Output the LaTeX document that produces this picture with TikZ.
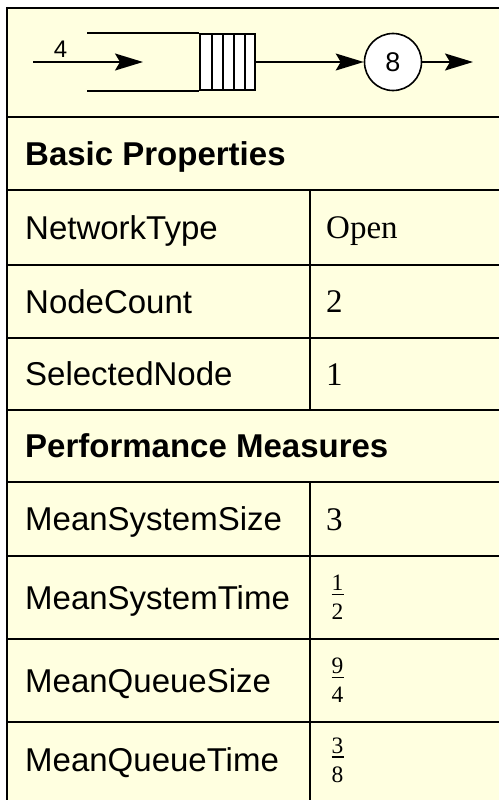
\documentclass[tikz,border=0pt]{standalone}
\usepackage{fontspec}
\setmainfont{Liberation Serif}
\setsansfont{Liberation Sans}
\usepackage{xcolor}
\usetikzlibrary{arrows.meta, positioning, calc}

\definecolor{cellbg}{HTML}{FFFFE0}

% fraction in a value cell: name, row centre, numerator, denominator
\newcommand{\cellfrac}[4]{%
  \node[fractext] (#1num) at (337.5, #2-7) {#3};
  \node[fractext] (#1den) at (337.5, #2+22) {#4};
  \draw[line width=1.2pt] (331.5, #2-3) -- (343.5, #2-3);
}

\tikzset{
  tablerule/.style={line width=2pt, black},
  qline/.style={line width=1.6pt, black},
  flow/.style={-{Stealth[length=28pt, width=17pt, inset=5pt]}, line width=1.6pt},
  keytext/.style={anchor=base west, inner sep=0pt, font=\fontsize{33}{38}\selectfont\sffamily},
  headtext/.style={anchor=base west, inner sep=0pt, font=\fontsize{33}{38}\selectfont\sffamily\bfseries},
  valtext/.style={anchor=base west, inner sep=0pt, font=\fontsize{33}{38}\selectfont},
  fractext/.style={anchor=base, inner sep=0pt, font=\fontsize{23.5}{26}\selectfont}
}

\begin{document}
\begin{tikzpicture}[x=1pt, y=-1pt]
      \useasboundingbox (0, 0) rectangle (498, 800);

      % table background and rules
      \fill[cellbg] (7, 8) rectangle (510, 810);
      \foreach \y in {8, 117, 190, 265, 338, 410, 482, 556, 639, 722}
        \draw[tablerule] (6, \y) -- (510, \y);
      \draw[tablerule] (7, 7) -- (7, 810);
      \draw[tablerule] (310, 190) -- (310, 410);
      \draw[tablerule] (310, 482) -- (310, 810);

      % queue with one server
      \coordinate (src) at (33, 62);
      \coordinate (srcend) at (143, 62);
      \coordinate (sink) at (473, 62);
      \node[draw, qline, fill=white, minimum width=55pt, minimum height=56pt, inner sep=0pt] (buffer) at (227.5, 62) {};
      \foreach \x in {212, 223, 234, 245}
        \draw[qline] (\x, 34) -- (\x, 90);
      \draw[qline] (buffer.north west) -- ++(-112, 0);
      \draw[qline] (buffer.south west) -- ++(-112, 0);
      \node[circle, draw, qline, fill=white, minimum size=57pt, inner sep=0pt, font=\fontsize{27}{30}\selectfont\sffamily] (server) at (393, 62) {8};

      \draw[flow] (src) -- node[pos=0.25, above, inner sep=4pt, font=\fontsize{24}{28}\selectfont\sffamily] (rate) {4} (srcend);
      \draw[flow] (buffer.east) -- (server.west);
      \draw[flow] (server.east) -- (sink);

      % basic properties
      \node[headtext] (basic) at (25, 165) {Basic Properties};
      \node[keytext] (nettype) at (25, 239) {NetworkType};
      \node[valtext] (nettypev) at (326, 238) {Open};
      \node[keytext] (nodecount) at (25, 313) {NodeCount};
      \node[valtext] (nodecountv) at (326, 312) {2};
      \node[keytext] (selnode) at (25, 385.5) {SelectedNode};
      \node[valtext] (selnodev) at (326, 385) {1};

      % performance measures
      \node[headtext] (perf) at (25, 457.5) {Performance Measures};
      \node[keytext] (syssize) at (25, 530.5) {MeanSystemSize};
      \node[valtext] (syssizev) at (326, 530) {3};
      \node[keytext] (systime) at (25, 609) {MeanSystemTime};
      \cellfrac{systime}{597.5}{1}{2}
      \node[keytext] (qsize) at (25, 692) {MeanQueueSize};
      \cellfrac{qsize}{680.5}{9}{4}
      \node[keytext] (qtime) at (25, 771.5) {MeanQueueTime};
      \cellfrac{qtime}{760}{3}{8}

    \end{tikzpicture}
\end{document}
